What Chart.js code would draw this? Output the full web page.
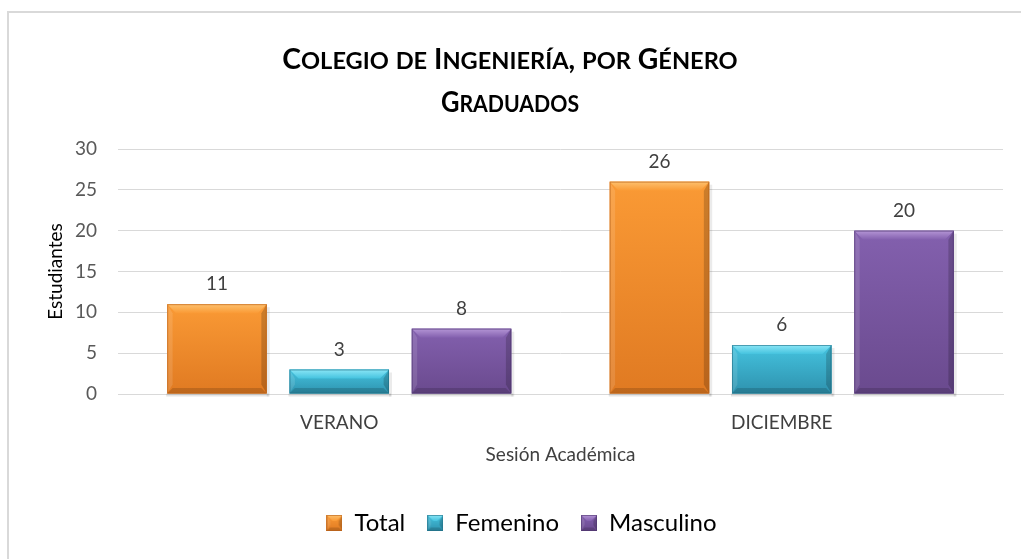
<!DOCTYPE html>
<html><head><meta charset="utf-8">
<script src="https://cdn.jsdelivr.net/npm/chart.js@4.4.0/dist/chart.umd.min.js"></script>
<style>html,body{margin:0;padding:0;background:#fff;}#wrap{width:1021px;height:559px;position:relative;}</style>
</head><body><div id="wrap"><canvas id="c" width="1021" height="559"></canvas></div>
<script>
const categories = ['VERANO', 'DICIEMBRE'];
const seriesNames = ['Total', 'Femenino', 'Masculino'];
const totalValues = [11, 26];
const femeninoValues = [3, 6];
const masculinoValues = [8, 20];
const yTickValues = [0, 5, 10, 15, 20, 25, 30];
const titleLines = ['Colegio de Ingeniería, por Género', 'Graduados'];
const yAxisTitle = 'Estudiantes';
const xAxisTitle = 'Sesión Académica';

const FONT = 'Lato, Carlito, Calibri, sans-serif';
const palette = [
  {mid: '#F08A2A', top: '#FA9A35', bot: '#E07A22', light: '#FDC16E', dark: '#B8601A'},
  {mid: '#38AFCB', top: '#45C3DF', bot: '#2E92AE', light: '#8BE6F6', dark: '#1F6E85'},
  {mid: '#7552A0', top: '#8360AE', bot: '#6A4A8E', light: '#B596D6', dark: '#4E3570'}
];

function drawBevelBox(ctx, l, t, width, h, p, depth) {
  const r = l + width, b = t + h;
  const g = ctx.createLinearGradient(0, t, 0, b);
  g.addColorStop(0, p.top);
  g.addColorStop(1, p.bot);
  ctx.fillStyle = g;
  ctx.fillRect(l, t, width, h);
  const d = Math.min(depth, h / 2.5);
  const gt = ctx.createLinearGradient(0, t, 0, t + d);
  gt.addColorStop(0, p.light);
  gt.addColorStop(1, p.top);
  ctx.fillStyle = gt;
  ctx.beginPath(); ctx.moveTo(l, t); ctx.lineTo(r, t); ctx.lineTo(r - d, t + d); ctx.lineTo(l + d, t + d); ctx.closePath(); ctx.fill();
  ctx.fillStyle = 'rgba(255,255,255,0.12)';
  ctx.beginPath(); ctx.moveTo(l, t); ctx.lineTo(l + d * 0.6, t + d); ctx.lineTo(l + d * 0.6, b - d); ctx.lineTo(l, b); ctx.closePath(); ctx.fill();
  ctx.fillStyle = 'rgba(0,0,0,0.18)';
  ctx.beginPath(); ctx.moveTo(r, t); ctx.lineTo(r - d * 0.6, t + d); ctx.lineTo(r - d * 0.6, b - d); ctx.lineTo(r, b); ctx.closePath(); ctx.fill();
  ctx.fillStyle = 'rgba(0,0,0,0.15)';
  ctx.beginPath(); ctx.moveTo(l, b); ctx.lineTo(r, b); ctx.lineTo(r - d * 0.6, b - d * 0.6); ctx.lineTo(l + d * 0.6, b - d * 0.6); ctx.closePath(); ctx.fill();
  ctx.strokeStyle = p.dark;
  ctx.globalAlpha = 0.6;
  ctx.lineWidth = 1;
  ctx.strokeRect(l + 0.5, t + 0.5, width - 1, h - 1);
  ctx.globalAlpha = 1;
}

function legendIcon(p) {
  const c = document.createElement('canvas');
  c.width = 16; c.height = 16;
  drawBevelBox(c.getContext('2d'), 0, 0, 16, 16, p, 6);
  return c;
}

const borderPlugin = {
  id: 'frame',
  beforeDraw(chart) {
    const ctx = chart.ctx;
    ctx.save();
    ctx.fillStyle = '#fff';
    ctx.fillRect(0, 0, chart.width, chart.height);
    ctx.strokeStyle = '#d9d9d9';
    ctx.lineWidth = 2;
    ctx.strokeRect(8, 12, 1200, 1200);
    ctx.restore();
  }
};

function drawSmallCaps(ctx, text, cx, baseline, big, small, squeeze) {
  const runs = [];
  for (const ch of text) {
    const lower = ch !== ch.toUpperCase();
    const size = lower ? small : big;
    const t = lower ? ch.toUpperCase() : ch;
    if (runs.length && runs[runs.length - 1].size === size) runs[runs.length - 1].t += t;
    else runs.push({t, size});
  }
  let w = 0;
  for (const r of runs) { ctx.font = 'bold ' + r.size + 'px ' + FONT; r.w = ctx.measureText(r.t).width; w += r.w; }
  ctx.save();
  ctx.translate(cx, baseline);
  ctx.scale(squeeze, 1);
  let x = -w / 2;
  ctx.textAlign = 'left';
  ctx.textBaseline = 'alphabetic';
  for (const r of runs) { ctx.font = 'bold ' + r.size + 'px ' + FONT; ctx.fillText(r.t, x, 0); x += r.w; }
  ctx.restore();
}

const titlePlugin = {
  id: 'scTitle',
  afterDraw(chart) {
    const ctx = chart.ctx;
    ctx.save();
    ctx.fillStyle = '#000';
    drawSmallCaps(ctx, titleLines[0], 510, 69, 28.3, 23.6, 1);
    drawSmallCaps(ctx, titleLines[1], 510, 112, 28.3, 23.6, 0.9);
    ctx.restore();
  }
};

const bevelPlugin = {
  id: 'bevel',
  afterDatasetsDraw(chart) {
    const ctx = chart.ctx;
    ctx.save();
    chart.data.datasets.forEach((ds, di) => {
      const meta = chart.getDatasetMeta(di);
      const p = palette[di];
      meta.data.forEach((el, i) => {
        const {x, y, base, width} = el.getProps(['x', 'y', 'base', 'width'], true);
        const l = x - width / 2, t = y, h = base - y;
        ctx.fillStyle = 'rgba(0,0,0,0.10)';
        ctx.fillRect(l - 1, base, width + 3, 3);
        ctx.fillStyle = 'rgba(0,0,0,0.08)';
        ctx.fillRect(l + width, t + 3, 3, h);
        drawBevelBox(ctx, l, t, width, h, p, 9);
        ctx.fillStyle = '#404040';
        ctx.font = '19px ' + FONT;
        ctx.textAlign = 'center';
        ctx.textBaseline = 'alphabetic';
        ctx.fillText(String(ds.data[i]), x, t - 14);
      });
    });
    ctx.restore();
  }
};

const chart = new Chart(document.getElementById('c'), {
  type: 'bar',
  data: {
    labels: categories,
    datasets: [
      {label: seriesNames[0], data: totalValues, backgroundColor: palette[0].mid, borderWidth: 0, pointStyle: legendIcon(palette[0])},
      {label: seriesNames[1], data: femeninoValues, backgroundColor: palette[1].mid, borderWidth: 0, pointStyle: legendIcon(palette[1])},
      {label: seriesNames[2], data: masculinoValues, backgroundColor: palette[2].mid, borderWidth: 0, pointStyle: legendIcon(palette[2])}
    ]
  },
  plugins: [borderPlugin, bevelPlugin, titlePlugin],
  options: {
    responsive: false,
    animation: false,
    devicePixelRatio: 1,
    categoryPercentage: 0.829,
    barPercentage: 0.814,
    layout: {padding: {top: 149, left: 40, right: 18, bottom: 14}},
    plugins: {
      legend: {
        position: 'bottom',
        labels: {
          font: {family: FONT, size: 24},
          color: '#000',
          usePointStyle: true,
          boxWidth: 16,
          boxHeight: 16,
          padding: 22
        }
      },
      tooltip: {enabled: false},
      title: {display: false}
    },
    scales: {
      x: {
        grid: {display: false, drawTicks: false},
        border: {display: true, color: '#d9d9d9'},
        ticks: {font: {family: FONT, size: 19}, color: '#404040', padding: 17},
        title: {display: true, text: xAxisTitle, font: {family: FONT, size: 19}, color: '#404040', padding: {top: 4, bottom: 23}},
        afterFit(scale) { scale.height = 95; }
      },
      y: {
        min: 0, max: 30,
        afterBuildTicks(scale) { scale.ticks = yTickValues.map(v => ({value: v})); },
        grid: {color: '#d9d9d9', drawTicks: false},
        border: {display: false},
        ticks: {font: {family: FONT, size: 19}, color: '#595959', padding: 21},
        title: {display: true, text: yAxisTitle, font: {family: FONT, size: 19}, color: '#000'},
        afterFit(scale) { scale.width = 78; }
      }
    }
  }
});
</script></body></html>
